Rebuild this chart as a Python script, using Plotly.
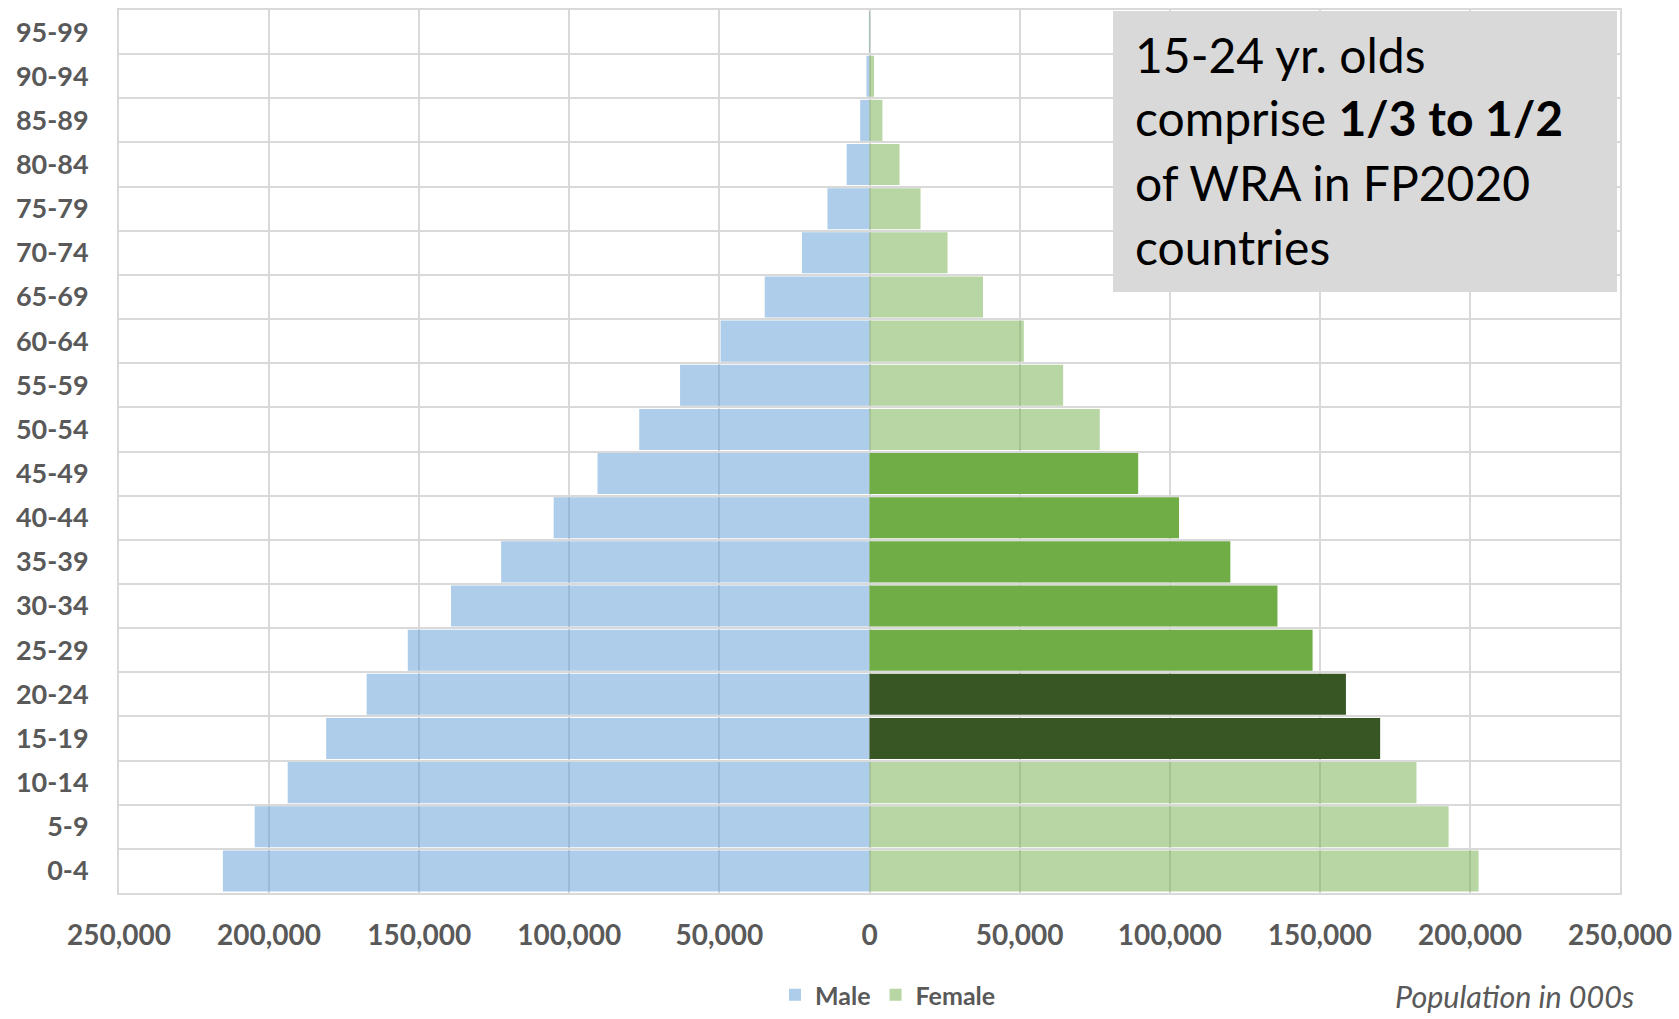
import plotly.graph_objects as go

ages = ["0-4", "5-9", "10-14", "15-19", "20-24", "25-29", "30-34", "35-39", "40-44", "45-49",
        "50-54", "55-59", "60-64", "65-69", "70-74", "75-79", "80-84", "85-89", "90-94", "95-99"]
male = [215400, 204800, 193800, 181000, 167500, 153800, 139400, 122700, 105200, 90600,
        76700, 63100, 49600, 34900, 22500, 14000, 7600, 3100, 1000, 200]
female = [202900, 192900, 182200, 170100, 158700, 147600, 135900, 120200, 103100, 89500,
          76700, 64500, 51400, 37800, 26000, 17000, 10000, 4300, 1500, 200]
x_ticks = [-250000, -200000, -150000, -100000, -50000, 0, 50000, 100000, 150000, 200000, 250000]
x_labels = ["250,000", "200,000", "150,000", "100,000", "50,000", "0",
            "50,000", "100,000", "150,000", "200,000", "250,000"]

LIGHT_BLUE = "rgba(91,155,213,0.5)"
LIGHT_GREEN = "rgba(112,173,71,0.5)"
MID_GREEN = "#70AD47"
DARK_GREEN = "#375623"
GRID = "#D9D9D9"
TXT = "#595959"
FONT = "Lato"

# plot area in page pixels
PL, PT, PR, PB = 119, 10, 1620, 893
PW, PH = PR - PL, PB - PT


def px_x(x):
    return (x - PL) / PW


def px_y(y):
    return (PB - y) / PH


def female_color(label):
    start = int(label.split("-")[0])
    if 15 <= start <= 20:
        return DARK_GREEN
    if 25 <= start <= 45:
        return MID_GREEN
    return LIGHT_GREEN


ypos = list(range(len(ages)))

fig = go.Figure()
fig.add_trace(go.Bar(
    y=ypos, x=[-v for v in male], orientation="h", name="Male",
    marker=dict(color=LIGHT_BLUE, line=dict(width=0)),
    customdata=male, text=ages, textposition="none",
    hovertemplate="%{text}: %{customdata:,}<extra>Male</extra>",
))
fig.add_trace(go.Bar(
    y=ypos, x=female, orientation="h", name="Female",
    marker=dict(color=[female_color(a) for a in ages], line=dict(width=0)),
    text=ages, textposition="none",
    hovertemplate="%{text}: %{x:,}<extra>Female</extra>",
))

fig.update_layout(
    width=1679, height=1019,
    barmode="overlay", bargap=0.07,
    plot_bgcolor="white", paper_bgcolor="white",
    margin=dict(l=PL, r=1679 - PR, t=PT, b=1019 - PB, autoexpand=False),
    font=dict(family=FONT, color=TXT),
    showlegend=True,
    legend=dict(orientation="h", x=px_x(888), xanchor="center", y=px_y(995), yanchor="middle",
                font=dict(family=FONT, size=25, color=TXT, weight="bold"),
                itemwidth=30, traceorder="normal", tracegroupgap=0),
    xaxis=dict(range=[-250000, 250000], tickvals=x_ticks, ticktext=x_labels,
               showgrid=True, gridcolor=GRID, gridwidth=2, zeroline=False,
               showline=True, linecolor=GRID, linewidth=2, mirror=True,
               ticks="", ticklabelstandoff=16,
               tickfont=dict(family=FONT, size=28, color=TXT, weight="bold")),
    yaxis=dict(range=[-0.5, len(ages) - 0.5], tickvals=ypos, ticktext=ages,
               showgrid=False, zeroline=False,
               showline=True, linecolor=GRID, linewidth=2, mirror=True,
               ticks="", ticklabelstandoff=23,
               minor=dict(tickvals=[i - 0.5 for i in range(len(ages) + 1)],
                          showgrid=True, gridcolor=GRID, gridwidth=2, ticks=""),
               tickfont=dict(family=FONT, size=27, color=TXT, weight="bold")),
)

# text box
fig.add_shape(type="rect", xref="paper", yref="paper",
              x0=px_x(1113), x1=px_x(1617), y0=px_y(292), y1=px_y(11),
              fillcolor="#D9D9D9", line=dict(width=0), layer="above")
box_lines = ["15-24 yr. olds", "comprise <b>1/3 to 1/2</b>", "of WRA in FP2020", "countries"]
for i, line in enumerate(box_lines):
    fig.add_annotation(xref="paper", yref="paper", x=px_x(1133), y=px_y(54 + 64 * i),
                       xanchor="left", yanchor="middle", text=line, showarrow=False,
                       font=dict(family=FONT, size=48, color="black"), align="left")

fig.add_annotation(xref="paper", yref="paper", x=px_x(1636), y=px_y(996),
                   xanchor="right", yanchor="middle", text="<i>Population in 000s</i>",
                   showarrow=False, font=dict(family=FONT, size=30.5, color=TXT))

fig.write_html("out.html", config={"displayModeBar": False},
               post_script="document.body.style.margin='0';")
